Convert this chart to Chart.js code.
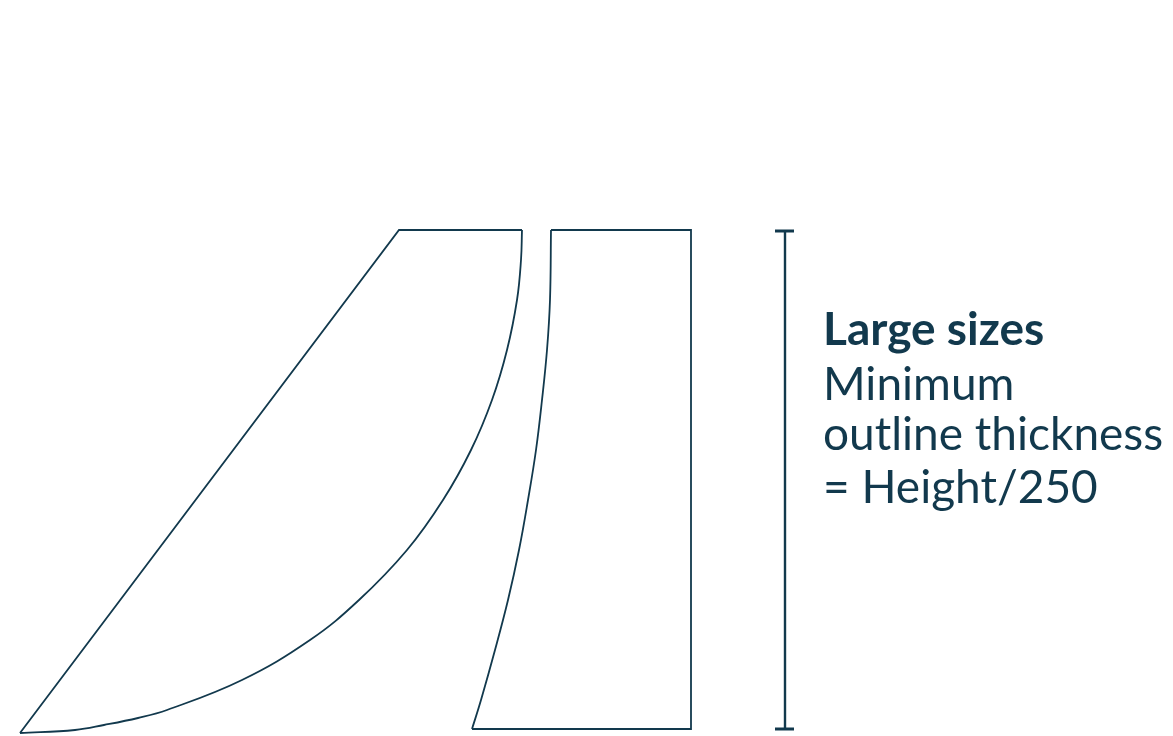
<!DOCTYPE html>
<html>
<head>
<meta charset="utf-8">
<script src="https://cdn.jsdelivr.net/npm/chart.js@4/dist/chart.umd.min.js"></script>
<style>
  html, body { margin: 0; padding: 0; background: #fff; }
  #wrap { width: 1173px; height: 736px; }
</style>
</head>
<body>
<div id="wrap"><canvas id="shapes" width="1173" height="736"></canvas></div>
<script>
// outline points (x, y in picture units, y downwards)
const leftEdge = [[20, 733], [399, 230], [522, 230]];
const leftCurveX = [522, 521, 517, 507, 492, 471, 443, 407, 359, 310, 242, 167, 138, 104, 75, 20];
const leftCurveY = [230, 260, 300, 350, 400, 450, 500, 550, 600, 640, 680, 710, 718, 725, 730, 733];

const rightEdge = [[551, 230], [691, 230], [691, 729], [472, 729]];
const rightCurveX = [551, 550, 547, 542, 536, 528, 519, 508, 495, 481, 472];
const rightCurveY = [230, 300, 350, 400, 450, 500, 550, 600, 650, 700, 729];

const bracketLine = [[785, 231], [785, 729]];
const bracketTop = [[775, 231], [794, 231]];
const bracketBottom = [[775, 729], [794, 729]];

const labelLines = ['Large sizes', 'Minimum', 'outline thickness', '= Height/250'];
const labelBold = [true, false, false, false];
const labelX = 823;
const labelBaselines = [345, 400, 450, 503];

const ink = '#12394d';

const pts = arr => arr.map(p => ({ x: p[0], y: p[1] }));
const zipPts = (xs, ys) => xs.map((x, i) => ({ x: x, y: ys[i] }));

const lineSet = (data, width, tension) => ({
    data: data,
    showLine: true,
    fill: false,
    borderColor: ink,
    borderWidth: width,
    borderJoinStyle: 'miter',
    borderCapStyle: 'butt',
    pointRadius: 0,
    tension: tension
});

// text block on the right side
const textPlugin = {
    id: 'sideText',
    afterDatasetsDraw(chart) {
        const ctx = chart.ctx;
        const xs = chart.scales.x, ys = chart.scales.y;
        ctx.save();
        ctx.fillStyle = ink;
        ctx.textBaseline = 'alphabetic';
        ctx.textAlign = 'left';
        labelLines.forEach((t, i) => {
            ctx.font = (labelBold[i] ? 'bold ' : '') + '46px Lato, sans-serif';
            ctx.fillText(t, xs.getPixelForValue(labelX), ys.getPixelForValue(labelBaselines[i]));
        });
        ctx.restore();
    }
};

const ctx = document.getElementById('shapes').getContext('2d');
new Chart(ctx, {
    type: 'scatter',
    data: {
        datasets: [
            lineSet(pts(leftEdge), 1.8, 0),
            lineSet(zipPts(leftCurveX, leftCurveY), 1.8, 0.4),
            lineSet(pts(rightEdge), 1.8, 0),
            lineSet(zipPts(rightCurveX, rightCurveY), 1.8, 0.4),
            lineSet(pts(bracketLine), 2.4, 0),
            lineSet(pts(bracketTop), 3, 0),
            lineSet(pts(bracketBottom), 3, 0)
        ]
    },
    options: {
        responsive: false,
        animation: false,
        layout: { padding: 0 },
        plugins: { legend: { display: false }, tooltip: { enabled: false } },
        scales: {
            x: { type: 'linear', min: 0, max: 1173, display: false },
            y: { type: 'linear', min: 0, max: 736, reverse: true, display: false }
        }
    },
    plugins: [textPlugin]
});
</script>
</body>
</html>
